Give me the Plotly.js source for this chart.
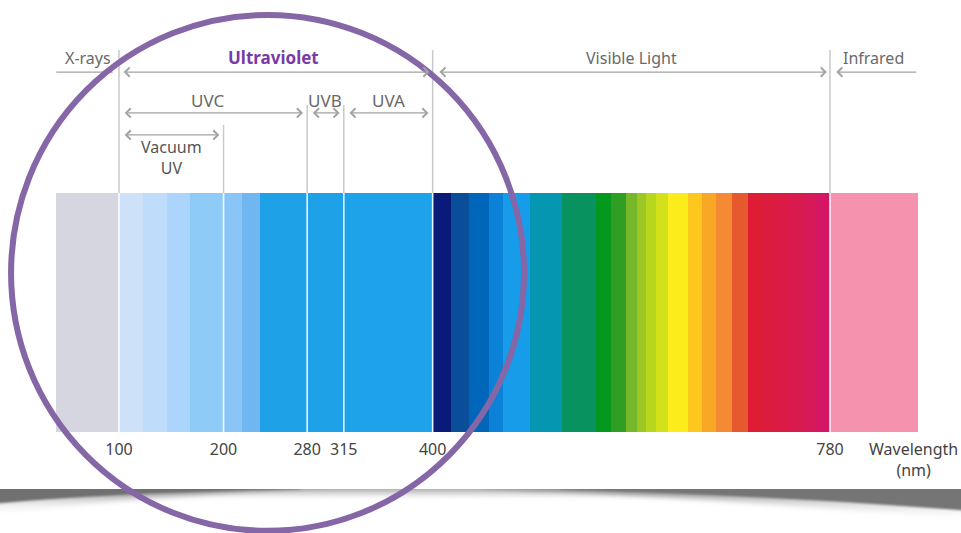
<!DOCTYPE html>
<html>
<head>
<meta charset="utf-8">
<script src="https://cdn.plot.ly/plotly-3.0.1.min.js"></script>
<style>html,body{margin:0;padding:0;background:#fff;}#chart{width:961px;height:533px;}</style>
</head>
<body>
<div id="chart"></div>
<script>
// ---- data (wavelengths in nm) ----
var bandStart = [40, 100, 123, 146, 168, 200, 218, 235, 280, 315, 400, 418, 435, 454, 467, 493, 524, 556, 571, 585, 595, 604, 614, 625, 644, 658, 671, 686, 702, 715, 728, 741, 754, 767, 780];
var bandEnd   = [100, 123, 146, 168, 200, 218, 235, 280, 315, 400, 418, 435, 454, 467, 493, 524, 556, 571, 585, 595, 604, 614, 625, 644, 658, 671, 686, 702, 715, 728, 741, 754, 767, 780, 864];
var bandColors = ['#d6d6e1', '#cde2f8', '#bfdcfa', '#abd5fc', '#8ecbf6', '#89c5f6', '#70b7f1', '#1fa1e8', '#1fa1e8', '#1ea3ea',
  '#0a1a78', '#0a4d98', '#0066ba', '#0b82d8', '#169ce9', '#0596b2', '#07925f', '#04981f', '#2f9e23', '#77b72a',
  '#9cc725', '#b7d71f', '#d3e11a', '#fcec1c', '#fdc71e', '#f9a826', '#f48a33', '#e6592f',
  '#de1d34', '#dc1c3c', '#db1b45', '#d91a4f', '#d71859', '#d51664', '#f592ae'];
var tickValues = [100, 200, 280, 315, 400, 780];
var tickLabels = ['100', '200', '280', '315', '400', '780'];
// region labels: [name, start, end]
var regionNames = ['X-rays', 'Ultraviolet', 'Visible Light', 'Infrared'];
var regionStart = [40, 100, 400, 780];
var regionEnd   = [100, 400, 780, 864];
var uvNames = ['UVC', 'UVB', 'UVA'];
var uvStart = [100, 280, 315];
var uvEnd   = [280, 315, 400];
var vacuumName = 'Vacuum<br>UV';
var vacuumStart = 100, vacuumEnd = 200;

// ---- build ----
var xs = [], ws = [], ys = [];
for (var i = 0; i < bandStart.length; i++) {
  xs.push((bandStart[i] + bandEnd[i]) / 2);
  ws.push(bandEnd[i] - bandStart[i]);
  ys.push(1);
}
var trace = {
  type: 'bar', x: xs, y: ys, width: ws, base: 0,
  marker: {color: bandColors, line: {width: 0}},
  hoverinfo: 'skip', showlegend: false
};

var FONT = 'Noto Sans, Open Sans, sans-serif';
var GRAY = '#a3a3a3';
var TXT = '#696969';
var yRow1 = 1.506, yRow1Txt = 1.565, yRow2 = 1.335, yRow2Txt = 1.389, yRow3 = 1.243, yRow3Txt = 1.15;
var topLong = 1.598;
var tops = {100: topLong, 200: 1.285, 280: 1.368, 315: 1.368, 400: topLong, 780: topLong};

var shapes = [];
var annotations = [];
// gray separators above bands, white separators through bands
tickValues.forEach(function (v) {
  shapes.push({type: 'line', xref: 'x', yref: 'y', x0: v, x1: v, y0: 1, y1: tops[v], line: {color: '#c9c9c9', width: 1.5}, layer: 'below'});
  shapes.push({type: 'line', xref: 'x', yref: 'y', x0: v, x1: v, y0: 0, y1: 1, line: {color: 'rgba(255,255,255,0.9)', width: 1.6}, layer: 'above'});
});

function dblArrow(a, b, y) {
  annotations.push({x: b, y: y, ax: a, ay: y, xref: 'x', yref: 'y', axref: 'x', ayref: 'y', text: '',
    showarrow: true, arrowhead: 4, startarrowhead: 4, arrowside: 'end+start', arrowsize: 1.5, startarrowsize: 1.5, arrowwidth: 1.2, arrowcolor: GRAY,
    standoff: 0, startstandoff: 0});
}
function label(txt, x, y, opts) {
  var a = {x: x, y: y, xref: 'x', yref: 'y', text: txt, showarrow: false,
    font: {family: FONT, size: 16, color: TXT}, xanchor: 'center', yanchor: 'middle'};
  for (var k in opts) a[k] = opts[k];
  annotations.push(a);
}
// Row 1: region labels
shapes.push({type: 'line', xref: 'x', yref: 'y', x0: regionStart[0], x1: regionEnd[0] - 6, y0: yRow1, y1: yRow1, line: {color: GRAY, width: 1.2}});
dblArrow(regionStart[1] + 3, regionEnd[1] - 3, yRow1);
dblArrow(regionStart[2] + 5, regionEnd[2] - 3, yRow1);
annotations.push({x: regionStart[3] + 6, y: yRow1, ax: regionEnd[3], ay: yRow1, xref: 'x', yref: 'y', axref: 'x', ayref: 'y', text: '',
  showarrow: true, arrowhead: 4, arrowsize: 1.5, arrowwidth: 1.2, arrowcolor: GRAY, standoff: 0});
for (var r = 0; r < regionNames.length; r++) {
  var opts = {};
  if (regionNames[r] === 'Ultraviolet') opts = {font: {family: FONT, size: 17, color: '#7a3aa6', weight: 'bold'}};
  label(regionNames[r], (regionStart[r] + regionEnd[r]) / 2 + (r === 1 ? -2 : 0), yRow1Txt, opts);
}
// Row 2: UV subbands
for (var u = 0; u < uvNames.length; u++) {
  dblArrow(uvStart[u] + 4, uvEnd[u] - 4, yRow2);
  label(uvNames[u], (uvStart[u] + uvEnd[u]) / 2 + (u === 0 ? -5 : 0), yRow2Txt, {font: {family: FONT, size: 17, color: TXT}});
}
// Row 3: Vacuum UV
dblArrow(vacuumStart + 4, vacuumEnd - 4, yRow3);
label(vacuumName, (vacuumStart + vacuumEnd) / 2, yRow3Txt, {font: {family: FONT, size: 16, color: '#555'}});
// axis title
annotations.push({x: 0.951, y: -0.117, xref: 'paper', yref: 'y', text: 'Wavelength<br>(nm)', showarrow: false,
  font: {family: FONT, size: 16, color: '#444'}, xanchor: 'center', yanchor: 'middle'});

// decorative purple circle
shapes.push({type: 'circle', xref: 'paper', yref: 'paper', x0: 0.0115, x1: 0.5453, y0: 0.004, y1: 0.972,
  line: {color: '#8566a6', width: 6}, layer: 'above'});

// bottom page-curl shadow
var svg = "<svg xmlns='http://www.w3.org/2000/svg' width='961' height='44' viewBox='0 0 961 44' preserveAspectRatio='none'>" +
  "<defs>" +
  "<linearGradient id='gl' gradientUnits='userSpaceOnUse' x1='0' y1='0' x2='0' y2='26'><stop offset='0' stop-color='#8a8a8a'/><stop offset='1' stop-color='#ffffff' stop-opacity='0'/></linearGradient>" +
  "<linearGradient id='gr' gradientUnits='userSpaceOnUse' x1='0' y1='0' x2='0' y2='32'><stop offset='0' stop-color='#8a8a8a'/><stop offset='1' stop-color='#ffffff' stop-opacity='0'/></linearGradient>" +
  "<linearGradient id='gm' gradientUnits='userSpaceOnUse' x1='0' y1='0' x2='0' y2='12'><stop offset='0' stop-color='#a8a8a8'/><stop offset='1' stop-color='#ffffff' stop-opacity='0'/></linearGradient>" +
  "<filter id='b' x='-0.1' y='-1' width='1.2' height='3'><feGaussianBlur stdDeviation='2.5'/></filter>" +
  "<filter id='b2' x='-0.1' y='-1' width='1.2' height='3'><feGaussianBlur stdDeviation='1.3'/></filter>" +
  "</defs>" +
  "<path d='M-10,-6 H971 V10 Q480,4 -10,12 Z' fill='url(#gm)' filter='url(#b)'/>" +
  "<path d='M-10,-6 L380,-6 Q150,6 -10,26 Z' fill='url(#gl)' filter='url(#b)'/>" +
  "<path d='M480,-6 L971,-6 L971,32 Q760,12 480,-2 Z' fill='url(#gr)' filter='url(#b)'/>" +
  "<path d='M-10,-6 L300,-6 L300,0 Q120,3 -10,15 Z' fill='#707070' filter='url(#b2)'/>" +
  "<path d='M560,-6 L971,-6 L971,22 Q800,8 560,0 Z' fill='#747474' filter='url(#b2)'/>" +
  "</svg>";
var images = [{source: 'data:image/svg+xml;charset=utf-8,' + encodeURIComponent(svg), xref: 'paper', yref: 'paper',
  x: 0, y: 1 - 489 / 533, sizex: 1, sizey: 44 / 533, xanchor: 'left', yanchor: 'top', sizing: 'stretch', layer: 'below'}];

var layout = {
  width: 961, height: 533,
  margin: {l: 0, r: 0, t: 0, b: 0, pad: 0},
  paper_bgcolor: '#ffffff', plot_bgcolor: 'rgba(0,0,0,0)',
  bargap: 0, showlegend: false,
  xaxis: {range: [-13.8, 905.3], tickvals: tickValues, ticktext: tickLabels, showgrid: false, zeroline: false, showline: false,
    ticks: '', anchor: 'free', position: 1 - 438 / 533, tickfont: {family: FONT, size: 16, color: '#444'}, fixedrange: true},
  yaxis: {range: [-0.4226, 1.8075], visible: false, fixedrange: true},
  shapes: shapes, annotations: annotations, images: images
};
Plotly.newPlot('chart', [trace], layout, {displayModeBar: false, staticPlot: true});
</script>
</body>
</html>
